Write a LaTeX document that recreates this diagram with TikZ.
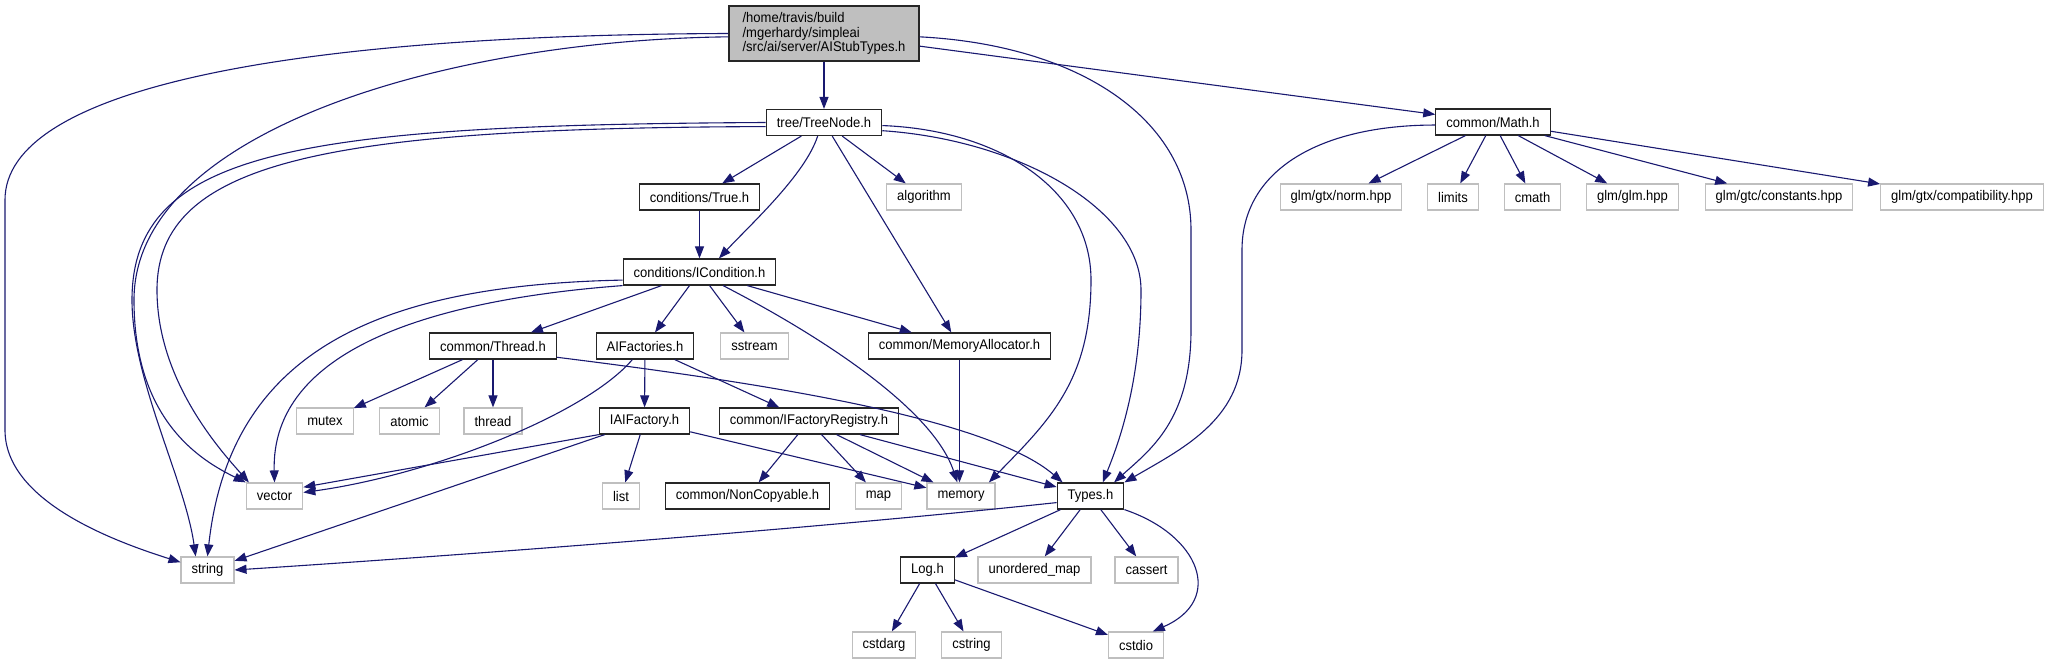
\documentclass[tikz,border=0pt]{standalone}
\usepackage{fontspec}
\setmainfont{Liberation Sans}[FakeStretch=0.93]
\usetikzlibrary{arrows.meta}
\definecolor{edgeblue}{HTML}{191970}
\definecolor{extgray}{HTML}{BFBFBF}

\begin{document}
\begin{tikzpicture}[x=1pt,y=-1pt,
    incbox/.style={draw=black!85,line width=1.2pt,minimum height=26pt,
                   inner xsep=10.5pt,inner ysep=0pt,
                   font=\fontsize{14}{14.7}\selectfont},
    extbox/.style={incbox,draw=extgray},
    rootbox/.style={incbox,fill=extgray,align=left,minimum width=190pt,
                    minimum height=55pt},
    dep/.style={edgeblue,line width=1.1pt,
                -{Triangle[length=12pt,width=9pt]}}]
  \useasboundingbox (0,0) rectangle (2051,664);
  %-------------------------------------------------- the file and its headers
  \node[rootbox] (root) at (824,33.5)
    {/home/travis/build\\/mgerhardy/simpleai\\/src/ai/server/AIStubTypes.h};
  \node[incbox] (tree)  at (824,122.5) {tree/TreeNode.h};
  \node[incbox] (mathh) at (1493,122)  {common/Math.h};
  \node[incbox] (truec) at (699.5,197) {conditions/True.h};
  \node[extbox] (algo)  at (924,197)   {algorithm};
  \node[extbox] (norm)  at (1341,197)  {glm/gtx/norm.hpp};
  \node[extbox] (limits) at (1453,197) {limits};
  \node[extbox] (cmath) at (1532.5,197) {cmath};
  \node[extbox] (glmh)  at (1632.5,197) {glm/glm.hpp};
  \node[extbox] (consts) at (1779,197) {glm/gtc/constants.hpp};
  \node[extbox] (compat) at (1962,197) {glm/gtx/compatibility.hpp};
  \node[incbox] (icond) at (699.5,272) {conditions/ICondition.h};
  \node[incbox] (thread) at (493,346)  {common/Thread.h};
  \node[incbox] (aifac) at (645,346)   {AIFactories.h};
  \node[extbox] (sstream) at (754.5,346) {sstream};
  \node[incbox] (memalloc) at (959.5,346) {common/MemoryAllocator.h};
  \node[extbox] (mutex) at (325,421)   {mutex};
  \node[extbox] (atomic) at (409.5,421) {atomic};
  \node[extbox] (thrd)  at (493,421)   {thread};
  \node[incbox] (iaifac) at (644.5,421) {IAIFactory.h};
  \node[incbox] (ifreg) at (809,421)   {common/IFactoryRegistry.h};
  \node[extbox] (vector) at (274.5,496) {vector};
  \node[extbox] (list)  at (621,496)   {list};
  \node[incbox] (noncopy) at (747.5,496) {common/NonCopyable.h};
  \node[extbox] (map)   at (878.5,496) {map};
  \node[extbox] (memory) at (961,496)  {memory};
  \node[incbox] (types) at (1090.5,496) {Types.h};
  \node[extbox] (string) at (207.5,570) {string};
  \node[incbox] (log)   at (927.5,570) {Log.h};
  \node[extbox] (unord) at (1034.5,570) {unordered\_map};
  \node[extbox] (cassert) at (1146.5,570) {cassert};
  \node[extbox] (cstdarg) at (884,645) {cstdarg};
  \node[extbox] (cstring) at (971.5,645) {cstring};
  \node[extbox] (cstdio) at (1136,645) {cstdio};
  %-------------------------------------------------- straight includes
  \draw[dep] (root) -- (tree);
  \draw[dep] (root) -- (mathh);
  \foreach \t in {truec,algo,memalloc} \draw[dep] (tree) -- (\t);
  \draw[dep] (truec) -- (icond);
  \foreach \t in {thread,aifac,sstream,memalloc} \draw[dep] (icond) -- (\t);
  \foreach \t in {mutex,atomic,thrd} \draw[dep] (thread) -- (\t);
  \foreach \t in {iaifac,ifreg} \draw[dep] (aifac) -- (\t);
  \foreach \t in {list,string,memory} \draw[dep] (iaifac) -- (\t);
  \draw[dep] (iaifac.south west) -- (vector.17);
  \foreach \t in {noncopy,map,memory,types} \draw[dep] (ifreg) -- (\t);
  \draw[dep] (memalloc.south) -- (memalloc.south |- memory.north);
  \foreach \t in {log,unord,cassert} \draw[dep] (types) -- (\t);
  \foreach \t in {cstdarg,cstring,cstdio} \draw[dep] (log) -- (\t);
  \foreach \t in {norm,limits,cmath,glmh,consts,compat} \draw[dep] (mathh) -- (\t);
  %-------------------------------------------------- curved includes
  % long ones on the left, down to string and vector
  \draw[dep] (root.west) .. controls (280,35) and (5,90) .. (5,200)
    -- (5,430) .. controls (5,500) and (110,540) .. (string.164);
  \draw[dep] (root.182) .. controls (450,40) and (134,130) .. (134,300)
    .. controls (134,420) and (200,460) .. (vector.north west);
  \draw[dep] (tree.west) .. controls (300,125) and (132,150) .. (132,300)
    .. controls (132,380) and (185,480) .. (string.131);
  \draw[dep] (tree.184) .. controls (330,128) and (157,160) .. (157,290)
    .. controls (157,380) and (220,450) .. (vector.152);
  \draw[dep] (icond.186) .. controls (380,285) and (230,350) .. (string.north);
  \draw[dep] (icond.south west) .. controls (430,300) and (271,350) .. (vector.north);
  \draw[dep] (aifac.-133) .. controls (585,415) and (430,475) .. (vector.7);
  \draw[dep] (types.191) .. controls (800,530) and (450,556) .. (string.east);
  % the ones that come down on the right
  \draw[dep] (tree.245) .. controls (805,175) and (750,225) .. (icond.35);
  \draw[dep] (icond.-30) .. controls (790,320) and (930,400) .. (memory.105);
  \draw[dep] (thread.-10) .. controls (780,385) and (990,420) .. (types.154);
  \draw[dep] (tree.-3) .. controls (1000,130) and (1091,190) .. (1091,280)
    .. controls (1091,380) and (1050,420) .. (memory.26);
  \draw[dep] (tree.-8) .. controls (1020,140) and (1141,210) .. (1141,290)
    .. controls (1141,380) and (1120,440) .. (types.48);
  \draw[dep] (root.-2) .. controls (1080,45) and (1191,120) .. (1191,230)
    -- (1191,330) .. controls (1191,420) and (1150,450) .. (types.30);
  \draw[dep] (mathh.183) .. controls (1320,125) and (1242,170) .. (1242,250)
    -- (1242,350) .. controls (1242,420) and (1180,450) .. (types.north east);
  \draw[dep] (types.south east) .. controls (1200,535) and (1225,600) .. (cstdio.39);
\end{tikzpicture}
\end{document}
